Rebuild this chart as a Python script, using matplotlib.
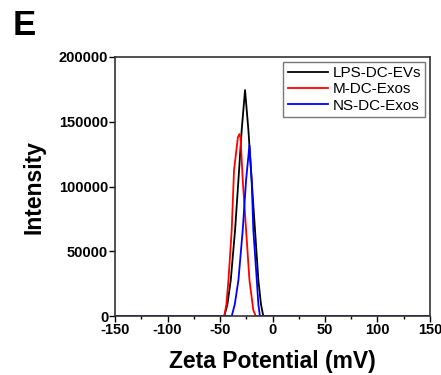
import matplotlib
matplotlib.use("Agg")
import matplotlib.pyplot as plt
from matplotlib.ticker import MultipleLocator

plt.rcParams["font.family"] = ["Liberation Sans", "DejaVu Sans"]
plt.rcParams["font.weight"] = "bold"
plt.rcParams["axes.unicode_minus"] = False

# Zeta potential distributions (mV, intensity)
lps_x = [-150, -46, -43, -39.8, -35.7, -32.5, -29.4, -26.2, -23, -19.9, -16.7, -13.5, -11, -8.8, 150]
lps_y = [0, 0, 9000, 27800, 66400, 105000, 143600, 174500, 143600, 105000, 66400, 27800, 9000, 0, 0]

m_x = [-150, -46, -44, -42, -38.9, -36.7, -33, -31.6, -30.5, -28.4, -25.2, -22, -18.3, -16, 150]
m_y = [0, 0, 9000, 27800, 66400, 112700, 138000, 140500, 138000, 105000, 66400, 27800, 4600, 0, 0]

ns_x = [-150, -38.9, -36, -32.5, -28.4, -25.2, -22, -19.9, -18.3, -15, -13.5, -12, 150]
ns_y = [0, 0, 9000, 27800, 66400, 105000, 132000, 105000, 66400, 27800, 9000, 0, 0]

labels = ["LPS-DC-EVs", "M-DC-Exos", "NS-DC-Exos"]
colors = ["black", "red", "blue"]

fig = plt.figure(figsize=(4.41, 3.75), dpi=100)
ax = fig.add_axes([0.261, 0.157, 0.714, 0.691])

for xs, ys, lab, c in zip([lps_x, m_x, ns_x], [lps_y, m_y, ns_y], labels, colors):
    ax.plot(xs, ys, color=c, lw=1.3, label=lab)

ax.set_xlim(-150, 150)
ax.set_ylim(0, 200000)
ax.xaxis.set_major_locator(MultipleLocator(50))
ax.xaxis.set_minor_locator(MultipleLocator(25))
ax.yaxis.set_major_locator(MultipleLocator(50000))
ax.tick_params(axis="both", which="major", direction="out", length=4, width=1,
               labelsize=10.5, pad=1)
ax.tick_params(axis="x", which="minor", direction="out", length=2.5, width=1)
for lbl in ax.get_xticklabels() + ax.get_yticklabels():
    lbl.set_fontweight("bold")
for s in ax.spines.values():
    s.set_linewidth(1.2)
    s.set_color("#333333")

ax.set_xlabel("Zeta Potential (mV)", fontsize=16.5, fontweight="bold", labelpad=9)
ax.yaxis.set_label_coords(-0.22, 0.54)
ax.set_ylabel("Intensity", fontsize=16.5, fontweight="bold")

leg = ax.legend(loc="upper right", fontsize=11, frameon=True, fancybox=False,
                handlelength=2.6, borderpad=0.3, labelspacing=0.15,
                handletextpad=0.3, borderaxespad=0.3)
leg.get_frame().set_edgecolor("#555555")
leg.get_frame().set_linewidth(1.0)
for t in leg.get_texts():
    t.set_fontweight("normal")

fig.text(0.028, 0.975, "E", fontsize=25, fontweight="bold", va="top", ha="left")

fig.savefig("out.png", dpi=100)
